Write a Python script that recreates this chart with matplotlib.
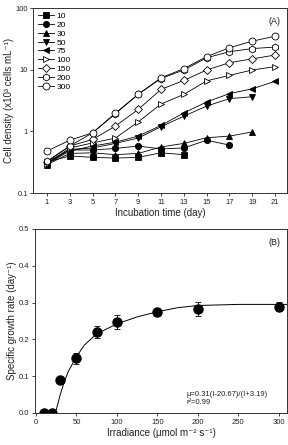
import matplotlib
matplotlib.use("Agg")
import matplotlib.pyplot as plt
from matplotlib.ticker import FixedLocator, NullLocator

plt.rcParams['font.family'] = ['Liberation Sans Narrow', 'Liberation Sans', 'DejaVu Sans']

# panel A: cell density over incubation time, by irradiance
days = [1, 3, 5, 7, 9, 11, 13, 15, 17, 19, 21]
irr_levels = ['10', '20', '30', '50', '75', '100', '150', '200', '300']
dens_10 = [0.32, 0.40, 0.38, 0.37, 0.38, 0.45, 0.42]
dens_20 = [0.32, 0.50, 0.50, 0.53, 0.58, 0.52, 0.54, 0.72, 0.60]
dens_30 = [0.29, 0.44, 0.45, 0.42, 0.44, 0.56, 0.64, 0.79, 0.84, 0.98]
dens_50 = [0.30, 0.51, 0.54, 0.64, 0.78, 1.19, 1.77, 2.57, 3.4, 3.65]
dens_75 = [0.30, 0.48, 0.58, 0.67, 0.84, 1.25, 2.0, 3.0, 4.1, 4.9, 6.5]
dens_100 = [0.30, 0.54, 0.65, 0.78, 1.43, 2.78, 3.98, 6.6, 8.1, 9.9, 11.2]
dens_150 = [0.32, 0.58, 0.74, 1.22, 2.27, 4.8, 6.7, 9.9, 13.0, 15.0, 17.3]
dens_200 = [0.33, 0.58, 0.95, 1.93, 4.0, 7.2, 9.9, 15.6, 19.6, 22.0, 23.3]
dens_300 = [0.48, 0.72, 0.95, 1.98, 4.0, 7.4, 10.4, 16.3, 22.7, 29.0, 35.0]

# panel B: specific growth rate vs irradiance
irradiance = [10, 20, 30, 50, 75, 100, 150, 200, 300]
growth = [0.0, 0.0, 0.09, 0.149, 0.22, 0.246, 0.274, 0.282, 0.289]
growth_err = [0.0, 0.0, 0.0, 0.015, 0.017, 0.019, 0.005, 0.019, 0.013]
# fitted curve as drawn
fit_I = [24, 30, 35, 40, 50, 60, 75, 100, 125, 150, 175, 200, 250, 310]
fit_mu = [0.0, 0.05, 0.085, 0.113, 0.153, 0.185, 0.215, 0.242, 0.261, 0.275, 0.286, 0.292, 0.295, 0.295]

series = [dens_10, dens_20, dens_30, dens_50, dens_75, dens_100, dens_150, dens_200, dens_300]
markers = ['s', 'o', '^', 'v', '<', '>', 'D', 'h', 'o']
filled = [True, True, True, True, True, False, False, False, False]
sizes = [4, 4.5, 4.5, 4.5, 4.5, 5, 4, 5, 5]

txt = '#222222'
fig = plt.figure(figsize=(2.88, 4.45), dpi=100)

ax1 = fig.add_axes([0.1163, 0.566, 0.8805, 0.416])
for name, vals, m, f, s in zip(irr_levels, series, markers, filled, sizes):
    ax1.plot(days[:len(vals)], vals, marker=m, color='black', lw=0.6, ms=s,
             mfc='black' if f else 'white', mec='black', mew=0.6, label=name)
ax1.set_yscale('log')
ax1.set_ylim(0.1, 100)
ax1.set_xlim(-0.18, 22.05)
ax1.xaxis.set_major_locator(FixedLocator(days))
ax1.yaxis.set_major_locator(FixedLocator([0.1, 1, 10, 100]))
ax1.yaxis.set_minor_locator(NullLocator())
ax1.set_yticklabels(['0.1', '1', '10', '100'])
ax1.set_xlabel('Incubation time (day)', fontsize=7, color=txt, labelpad=2)
ax1.set_ylabel('Cell density (x10\u00b3 cells mL\u207b\u00b9)', fontsize=7, color=txt, labelpad=1)
ax1.text(0.975, 0.95, '(A)', transform=ax1.transAxes, ha='right', va='top', fontsize=6.5, color=txt)
ax1.legend(loc='upper left', fontsize=6, frameon=False, handlelength=2.0, handletextpad=0.3,
           labelspacing=0.12, borderaxespad=0.3, borderpad=0.2)

ax2 = fig.add_axes([0.1205, 0.072, 0.877, 0.4135])
ax2.plot(fit_I, fit_mu, color='black', lw=0.7)
ax2.errorbar(irradiance, growth, yerr=growth_err, fmt='o', color='black', ms=6.5,
             elinewidth=0.6, capsize=2, capthick=0.6)
ax2.set_xlim(-1.6, 310.6)
ax2.set_ylim(0, 0.5)
ax2.xaxis.set_major_locator(FixedLocator([0, 50, 100, 150, 200, 250, 300]))
ax2.yaxis.set_major_locator(FixedLocator([0.0, 0.1, 0.2, 0.3, 0.4, 0.5]))
ax2.set_yticklabels(['0.0', '0.1', '0.2', '0.3', '0.4', '0.5'])
ax2.set_xlabel('Irradiance (\u03bcmol m\u207b\u00b2 s\u207b\u00b9)', fontsize=7, color=txt, labelpad=2)
ax2.set_ylabel('Specific growth rate (day\u207b\u00b9)', fontsize=7, color=txt, labelpad=1)
ax2.text(0.6, 0.10, '\u03bc=0.31(I-20.67)/(I+3.19)', transform=ax2.transAxes, va='center',
         fontsize=5.5, color=txt)
ax2.text(0.6, 0.055, 'r\u00b2=0.99', transform=ax2.transAxes, va='center', fontsize=5.5, color=txt)
ax2.text(0.975, 0.95, '(B)', transform=ax2.transAxes, ha='right', va='top', fontsize=6.5, color=txt)

for ax in (ax1, ax2):
    ax.tick_params(direction='out', length=2.5, width=0.6, labelsize=5.5, pad=1.5, colors=txt)
    for sp in ax.spines.values():
        sp.set_linewidth(0.7)
        sp.set_color('#333333')

fig.savefig('out.png', dpi=100)
